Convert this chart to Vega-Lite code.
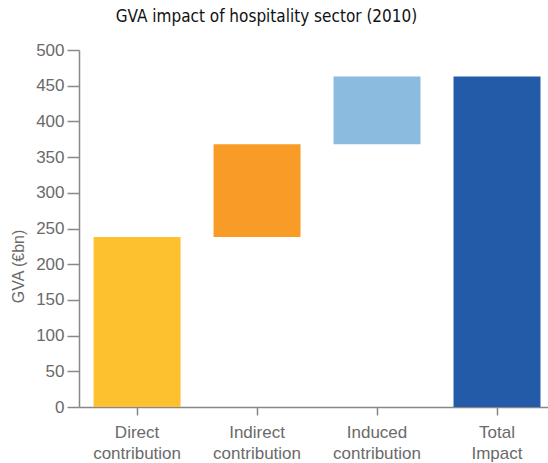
{
  "$schema": "https://vega.github.io/schema/vega-lite/v6.json",
  "width": 469,
  "height": 357,
  "autosize": "none",
  "padding": {"left": 79, "top": 50, "right": 0, "bottom": 56},
  "background": "white",
  "title": {
    "text": "GVA impact of hospitality sector (2010)",
    "font": "DejaVu Sans Condensed, Liberation Sans",
    "fontSize": 17,
    "fontWeight": "normal",
    "color": "#111111",
    "anchor": "middle",
    "dx": -47,
    "offset": 15
  },
  "data": {
    "values": [
      {"cat": "Direct contribution", "start": 0, "end": 238},
      {"cat": "Indirect contribution", "start": 238, "end": 368},
      {"cat": "Induced contribution", "start": 368, "end": 463},
      {"cat": "Total Impact", "start": 0, "end": 463}
    ]
  },
  "mark": {"type": "bar"},
  "encoding": {
    "x": {
      "field": "cat",
      "type": "nominal",
      "sort": null,
      "scale": {"paddingInner": 0.275, "paddingOuter": 0.092, "align": 0.66},
      "axis": {
        "title": null,
        "labelAngle": 0,
        "labelExpr": "split(datum.label, ' ')",
        "labelFont": "Liberation Sans",
        "labelFontSize": 17,
        "labelColor": "#6a6a6a",
        "labelLineHeight": 21,
        "labelPadding": 9,
        "domainColor": "#888888",
        "domainWidth": 1.5,
        "tickColor": "#888888",
        "tickWidth": 1.5,
        "tickSize": 8
      }
    },
    "y": {
      "field": "start",
      "type": "quantitative",
      "scale": {"domain": [0, 500], "nice": false},
      "axis": {
        "title": "GVA (€bn)",
        "titleFont": "Liberation Sans",
        "titleFontSize": 16,
        "titleFontWeight": "normal",
        "titleColor": "#6a6a6a",
        "titleX": -60.5,
        "titleY": 216,
        "titleAngle": -90,
        "titleAlign": "center",
        "titleBaseline": "middle",
        "values": [0, 50, 100, 150, 200, 250, 300, 350, 400, 450, 500],
        "grid": false,
        "labelFont": "Liberation Sans",
        "labelFontSize": 17,
        "labelColor": "#6a6a6a",
        "labelPadding": 3,
        "domainColor": "#888888",
        "domainWidth": 1.5,
        "tickColor": "#888888",
        "tickWidth": 1.5,
        "tickSize": 12
      }
    },
    "y2": {"field": "end"},
    "color": {
      "field": "cat",
      "type": "nominal",
      "scale": {
        "domain": ["Direct contribution", "Indirect contribution", "Induced contribution", "Total Impact"],
        "range": ["#FDC02F", "#F89C27", "#8BBCE0", "#235BA8"]
      },
      "legend": null
    }
  },
  "config": {"view": {"stroke": null}}
}
